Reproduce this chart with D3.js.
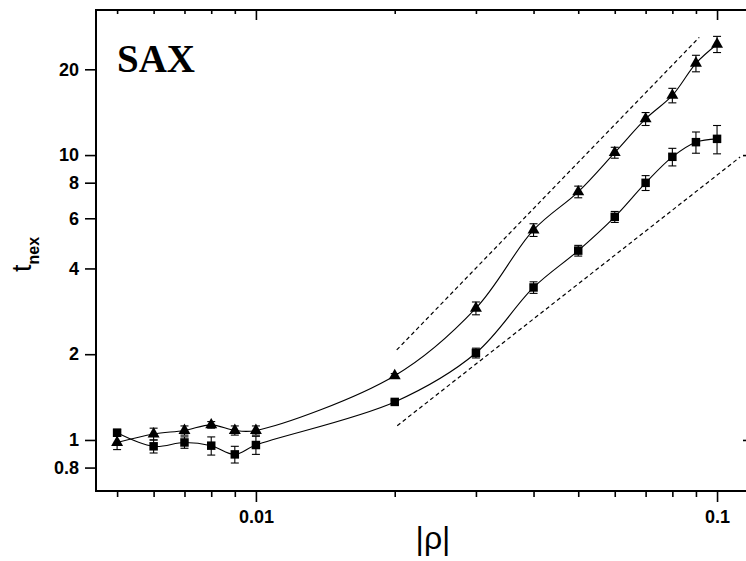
<!DOCTYPE html>
<html>
<head>
<meta charset="utf-8">
<script src="https://cdn.jsdelivr.net/npm/d3@7"></script>
<style>
  html, body { margin: 0; padding: 0; background: #fff; }
  svg { display: block; }
</style>
</head>
<body>
<svg id="chart" width="746" height="561"></svg>
<script>
// |rho| values shared by both series
const rho = [0.005, 0.006, 0.007, 0.008, 0.009, 0.01, 0.02, 0.03, 0.04, 0.05, 0.06, 0.07, 0.08, 0.09, 0.1];

// triangle series: t_nex and its error
const triVals = [0.98, 1.05, 1.08, 1.13, 1.08, 1.08, 1.68, 2.90, 5.46, 7.43, 10.2, 13.4, 16.2, 21.0, 24.5];
const triErr  = [0.055, 0.05, 0.04, 0.03, 0.04, 0.04, 0.03, 0.15, 0.28, 0.35, 0.45, 0.7, 0.95, 1.4, 1.6];

// square series: t_nex and its error
const sqVals = [1.06, 0.95, 0.98, 0.955, 0.89, 0.96, 1.36, 2.02, 3.43, 4.62, 6.07, 7.99, 9.86, 11.1, 11.4];
const sqErr  = [0.03, 0.05, 0.045, 0.07, 0.06, 0.07, 0.02, 0.08, 0.16, 0.2, 0.27, 0.48, 0.7, 0.95, 1.3];

// power-law guide lines (start and end points)
const guideUpper = [[0.0202, 2.07], [0.0915, 25.9]];
const guideLower = [[0.02025, 1.122], [0.1122, 9.84]];

// axis ticks
const xMajorTicks = [0.01, 0.1];
const xMinorTicks = [0.005, 0.006, 0.007, 0.008, 0.009, 0.02, 0.03, 0.04, 0.05, 0.06, 0.07, 0.08, 0.09];
const yTicks = [0.8, 1, 2, 4, 6, 8, 10, 20];
const yRightTicks = [1, 10];

const svg = d3.select("#chart");
const plotL = 96, plotR = 749, plotT = 10, plotB = 491;

const x = d3.scaleLog().domain([0.0045, 0.1173]).range([plotL, plotR]);
const y = d3.scaleLog().domain([0.662, 32.3]).range([plotB, plotT]);

const labelFont = "'Liberation Sans', Arial, Helvetica, sans-serif";

function styleAxis(g) {
  g.select(".domain").remove();
  g.selectAll(".tick line").attr("stroke", "#000").attr("stroke-width", 1.6);
  g.selectAll(".tick text")
    .attr("font-family", labelFont)
    .attr("font-weight", "bold")
    .attr("font-size", 18)
    .attr("fill", "#000");
}

// bottom axis: major (labelled) and minor ticks
svg.append("g").attr("transform", `translate(0,${plotB})`)
  .call(d3.axisBottom(x).tickValues(xMajorTicks).tickSize(11).tickPadding(8)
    .tickFormat(d3.format("")))
  .call(styleAxis);
svg.append("g").attr("transform", `translate(0,${plotB})`)
  .call(d3.axisBottom(x).tickValues(xMinorTicks).tickSize(6).tickFormat(""))
  .call(styleAxis);

// top axis: inward ticks
svg.append("g").attr("transform", `translate(0,${plotT})`)
  .call(d3.axisBottom(x).tickValues(xMajorTicks).tickSize(10).tickFormat(""))
  .call(styleAxis);
svg.append("g").attr("transform", `translate(0,${plotT})`)
  .call(d3.axisBottom(x).tickValues(xMinorTicks).tickSize(4).tickFormat(""))
  .call(styleAxis);

// left axis
svg.append("g").attr("transform", `translate(${plotL},0)`)
  .call(d3.axisLeft(y).tickValues(yTicks).tickSize(11).tickPadding(6)
    .tickFormat(d3.format("")))
  .call(styleAxis);

// right axis: inward ticks
svg.append("g").attr("transform", `translate(${plotR},0)`)
  .call(d3.axisLeft(y).tickValues(yRightTicks).tickSize(6).tickFormat(""))
  .call(styleAxis);

// frame lines
const frame = svg.append("g").attr("stroke", "#000").attr("stroke-width", 2);
frame.append("line").attr("x1", plotL).attr("x2", plotR).attr("y1", plotB).attr("y2", plotB);
frame.append("line").attr("x1", plotL).attr("x2", plotR).attr("y1", plotT).attr("y2", plotT);
frame.append("line").attr("x1", plotL).attr("x2", plotL).attr("y1", plotT - 1).attr("y2", plotB + 1);
frame.append("line").attr("x1", plotR).attr("x2", plotR).attr("y1", plotT - 1).attr("y2", plotB + 1);

// guide lines
const guide = d3.line().x(d => x(d[0])).y(d => y(d[1]));
[guideUpper, guideLower].forEach(pts => {
  svg.append("path").attr("d", guide(pts))
    .attr("fill", "none").attr("stroke", "#000").attr("stroke-width", 1.2)
    .attr("stroke-dasharray", "4,3");
});

// series
const series = [
  { vals: triVals, err: triErr, shape: d3.symbolTriangle, size: 62 },
  { vals: sqVals, err: sqErr, shape: d3.symbolSquare, size: 72 }
];

const curve = d3.line().x(d => x(d[0])).y(d => y(d[1])).curve(d3.curveCatmullRom.alpha(0.5));

series.forEach(s => {
  const pts = rho.map((r, i) => [r, s.vals[i], s.err[i]]);
  svg.append("path").attr("d", curve(pts))
    .attr("fill", "none").attr("stroke", "#000").attr("stroke-width", 1.1);

  const eb = svg.append("g").attr("stroke", "#000").attr("stroke-width", 1.1);
  pts.forEach(p => {
    const cx = x(p[0]), y1 = y(p[1] + p[2]), y2 = y(p[1] - p[2]);
    eb.append("line").attr("x1", cx).attr("x2", cx).attr("y1", y1).attr("y2", y2);
    eb.append("line").attr("x1", cx - 4).attr("x2", cx + 4).attr("y1", y1).attr("y2", y1);
    eb.append("line").attr("x1", cx - 4).attr("x2", cx + 4).attr("y1", y2).attr("y2", y2);
  });

  svg.append("g").selectAll("path").data(pts).join("path")
    .attr("d", d3.symbol().type(s.shape).size(s.size))
    .attr("transform", d => `translate(${x(d[0])},${y(d[1])})`)
    .attr("fill", "#000");
});

// panel label
svg.append("text").attr("x", 117).attr("y", 72)
  .attr("font-family", "'Liberation Serif', 'Times New Roman', serif")
  .attr("font-weight", "bold").attr("font-size", 39).text("SAX");

// x-axis title
svg.append("text").attr("x", 433).attr("y", 549).attr("text-anchor", "middle")
  .attr("font-family", labelFont).attr("font-size", 32).text("|ρ|");

// y-axis title
const yt = svg.append("text")
  .attr("transform", "translate(31,272) rotate(-90)")
  .attr("font-family", labelFont).attr("font-size", 27);
yt.append("tspan").text("t");
yt.append("tspan").attr("dy", 8).attr("font-size", 16).attr("font-weight", "bold").text("nex");
</script>
</body>
</html>
